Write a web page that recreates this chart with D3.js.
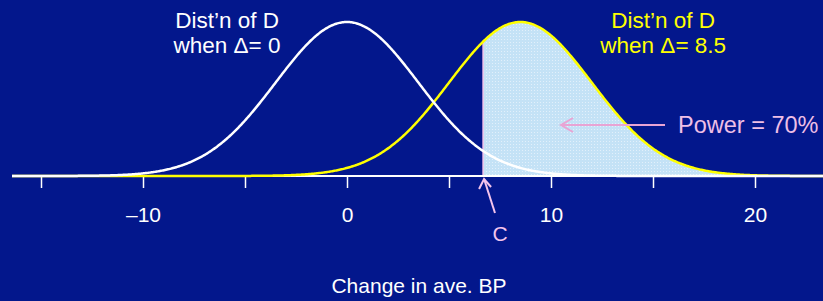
<!DOCTYPE html>
<html>
<head>
<meta charset="utf-8">
<script src="https://d3js.org/d3.v7.min.js"></script>
<style>
  body { margin: 0; background: #03178c; }
  svg text { font-family: "Liberation Sans", Arial, sans-serif; }
</style>
</head>
<body>
<script>
// distribution parameters
let means = [0, 8.5];
let sd = 3.5;
let curveColors = ["#ffffff", "#ffff00"];
let critical = 6.67;
let tickValues = [-15, -10, -5, 0, 5, 10, 15, 20];
let tickLabels = [-10, 0, 10, 20];
let titleLines = [["Dist\u2019n of D", "when \u0394= 0"], ["Dist\u2019n of D", "when \u0394= 8.5"]];
let titleX = [-5.88, 15.5];
let powerText = "Power = 70%";

let svgWidth = 823, svgHeight = 301;
let baseY = 176;

let svg = d3.select("body").append("svg")
  .attr("width", svgWidth)
  .attr("height", svgHeight);

svg.append("rect").attr("width", svgWidth).attr("height", svgHeight).attr("fill", "#03178c");

let defs = svg.append("defs");
let pat = defs.append("pattern").attr("id", "dots")
  .attr("width", 3).attr("height", 3).attr("patternUnits", "userSpaceOnUse");
pat.append("rect").attr("width", 3).attr("height", 3).attr("fill", "#c4e2f6");
pat.append("rect").attr("width", 1).attr("height", 1).attr("fill", "#e2f0fb");

let x = d3.scaleLinear().domain([0, 10]).range([347, 551]);
let xMin = x.invert(12), xMax = x.invert(svgWidth);

function dens(v, m) {
  return Math.exp(-((v - m) * (v - m)) / (2 * sd * sd)) / (sd * Math.sqrt(2 * Math.PI));
}
let y = d3.scaleLinear().domain([0, dens(0, 0)]).range([baseY, 22]);

let grid = d3.range(xMin, xMax + 0.05, 0.05);

// shaded power region
let area = d3.area()
  .x(d => x(d))
  .y0(baseY)
  .y1(d => y(dens(d, means[1])));
svg.append("path")
  .attr("d", area(grid.filter(d => d >= critical).concat([critical]).sort((a, b) => a - b)))
  .attr("fill", "url(#dots)");

svg.append("line")
  .attr("x1", x(critical)).attr("x2", x(critical))
  .attr("y1", baseY).attr("y2", y(dens(critical, means[1])))
  .attr("stroke", "#f4c4ec").attr("stroke-width", 1.5);

// axis
let axis = d3.axisBottom(x).tickValues(tickValues).tickSize(12)
  .tickFormat(d => tickLabels.includes(d) ? (d < 0 ? "\u2013" + Math.abs(d) : d) : "");
let gAxis = svg.append("g").attr("transform", `translate(0, ${baseY})`).call(axis);
gAxis.select(".domain").remove();
gAxis.selectAll("line").attr("stroke", "#ffffff").attr("stroke-width", 1.5);
gAxis.selectAll("text").attr("fill", "#ffffff").attr("font-size", 21).attr("dy", 0).attr("y", 46);
svg.append("line").attr("x1", 12).attr("x2", svgWidth).attr("y1", baseY).attr("y2", baseY)
  .attr("stroke", "#ffffff").attr("stroke-width", 2);

// curves
let line = d3.line().x(d => x(d[0])).y(d => y(d[1]));
[1, 0].forEach(i => {
  svg.append("path")
    .attr("d", line(grid.map(v => [v, dens(v, means[i])])))
    .attr("fill", "none")
    .attr("stroke", curveColors[i])
    .attr("stroke-width", 2.5);
});

// titles
titleLines.forEach((lines, i) => {
  lines.forEach((t, j) => {
    svg.append("text")
      .attr("x", x(titleX[i]))
      .attr("y", 28 + j * 25)
      .attr("text-anchor", "middle")
      .attr("font-size", 22.5)
      .attr("fill", curveColors[i])
      .text(t);
  });
});

// power arrow
let pink = "#e8a4d4";
svg.append("line").attr("x1", 665).attr("x2", 561).attr("y1", 125).attr("y2", 125)
  .attr("stroke", pink).attr("stroke-width", 2);
svg.append("path").attr("d", "M573,118 L561,125 L573,132")
  .attr("fill", "none").attr("stroke", pink).attr("stroke-width", 2);
svg.append("text").attr("x", 678).attr("y", 133).attr("font-size", 23.5)
  .attr("fill", "#eebfe6").text(powerText);

// C arrow
svg.append("line").attr("x1", 495).attr("x2", x(critical) + 1).attr("y1", 213).attr("y2", 179)
  .attr("stroke", "#f4c4ec").attr("stroke-width", 2);
svg.append("path").attr("d", `M${x(critical) - 4},${189} L${x(critical) + 1},179 L${x(critical) + 8},187`)
  .attr("fill", "none").attr("stroke", "#f4c4ec").attr("stroke-width", 2);
svg.append("text").attr("x", 500).attr("y", 241).attr("text-anchor", "middle")
  .attr("font-size", 21).attr("fill", "#f4c4ec").text("C");

svg.append("text").attr("x", 419).attr("y", 293).attr("text-anchor", "middle")
  .attr("font-size", 21).attr("fill", "#ffffff").text("Change in ave. BP");
</script>
</body>
</html>
